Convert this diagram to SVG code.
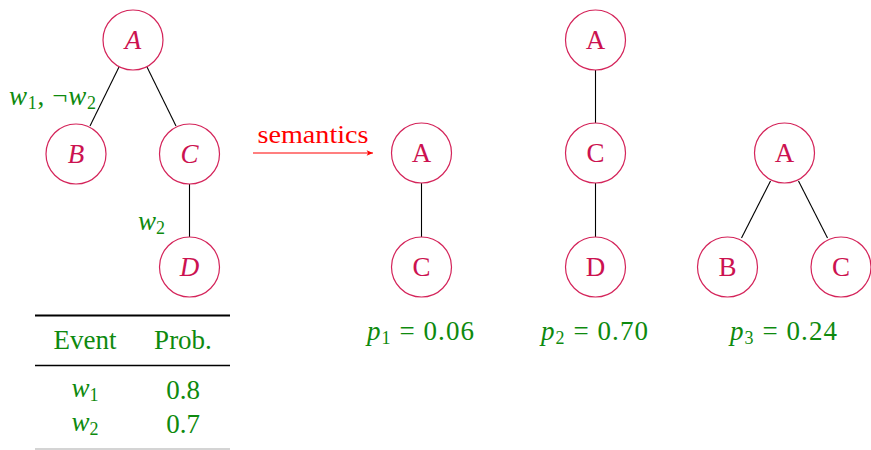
<svg xmlns="http://www.w3.org/2000/svg" width="871" height="450" viewBox="0 0 871 450">
<defs>
<style>
.nd{fill:#fff;stroke:#d4245a;stroke-width:1.2}
.nt{font-family:"Liberation Serif",serif;font-size:27px;fill:#cc1250;text-anchor:middle}
.it{font-style:italic}
.e{stroke:#000;stroke-width:1.1;fill:none}
.g{font-family:"Liberation Serif",serif;font-size:27px;fill:#0e8a0e}
.sub{font-size:18px;font-style:normal}
.m{font-style:italic}
</style>
<marker id="ah" viewBox="0 0 10 10" refX="9" refY="5" markerWidth="8" markerHeight="8" orient="auto" markerUnits="userSpaceOnUse">
<path d="M1,1.5 L9,5 L1,8.5 L3,5 Z" fill="#ff0000"/>
</marker>
</defs>
<rect width="871" height="450" fill="#fff"/>
<g id="connectors">
<line class="e" x1="119" y1="67" x2="90" y2="126"/>
<line class="e" x1="147" y1="67" x2="176" y2="126"/>
<line class="e" x1="189.5" y1="184" x2="189.5" y2="237"/>
<line class="e" x1="421.5" y1="183" x2="421.5" y2="237"/>
<line class="e" x1="595.5" y1="70" x2="595.5" y2="123"/>
<line class="e" x1="595.5" y1="183" x2="595.5" y2="237"/>
<line class="e" x1="770.5" y1="181" x2="741.5" y2="238"/>
<line class="e" x1="798.5" y1="181" x2="827.5" y2="238"/>
<line x1="253" y1="153" x2="373" y2="153" stroke="#ff0000" stroke-width="1.1" marker-end="url(#ah)"/>
</g>
<g id="labels">
<text class="g" x="9" y="105" textLength="87" lengthAdjust="spacing"><tspan class="m">w</tspan><tspan class="sub" dy="4">1</tspan><tspan dy="-4">, ¬</tspan><tspan class="m">w</tspan><tspan class="sub" dy="4">2</tspan></text>
<text class="g" x="138" y="230"><tspan class="m">w</tspan><tspan class="sub" dy="4">2</tspan></text>
<text x="313" y="143" font-family="Liberation Serif,serif" font-size="26" fill="#ff0000" text-anchor="middle" textLength="111" lengthAdjust="spacingAndGlyphs">semantics</text>
<text class="g" x="367" y="340" textLength="107" lengthAdjust="spacing"><tspan class="m">p</tspan><tspan class="sub" dy="4">1</tspan><tspan dy="-4"> = 0.06</tspan></text>
<text class="g" x="541" y="340" textLength="107" lengthAdjust="spacing"><tspan class="m">p</tspan><tspan class="sub" dy="4">2</tspan><tspan dy="-4"> = 0.70</tspan></text>
<text class="g" x="730" y="340" textLength="107" lengthAdjust="spacing"><tspan class="m">p</tspan><tspan class="sub" dy="4">3</tspan><tspan dy="-4"> = 0.24</tspan></text>
</g>
<g id="tree0">
<g id="n0A"><circle class="nd" cx="133" cy="40" r="30"/><text class="nt it" x="133" y="49">A</text></g>
<g id="n0B"><circle class="nd" cx="76" cy="154" r="30"/><text class="nt it" x="76" y="163">B</text></g>
<g id="n0C"><circle class="nd" cx="189.5" cy="154" r="30"/><text class="nt it" x="189.5" y="163">C</text></g>
<g id="n0D"><circle class="nd" cx="189.5" cy="267" r="30"/><text class="nt it" x="189.5" y="276">D</text></g>
</g>
<g id="tree1">
<g id="n1A"><circle class="nd" cx="421.5" cy="153" r="30"/><text class="nt" x="421.5" y="162">A</text></g>
<g id="n1C"><circle class="nd" cx="421.5" cy="267" r="30"/><text class="nt" x="421.5" y="276">C</text></g>
</g>
<g id="tree2">
<g id="n2A"><circle class="nd" cx="595.5" cy="40" r="30"/><text class="nt" x="595.5" y="49">A</text></g>
<g id="n2C"><circle class="nd" cx="595.5" cy="153" r="30"/><text class="nt" x="595.5" y="162">C</text></g>
<g id="n2D"><circle class="nd" cx="595.5" cy="267" r="30"/><text class="nt" x="595.5" y="276">D</text></g>
</g>
<g id="tree3">
<g id="n3A"><circle class="nd" cx="784.5" cy="153" r="30"/><text class="nt" x="784.5" y="162">A</text></g>
<g id="n3B"><circle class="nd" cx="727.5" cy="267" r="30"/><text class="nt" x="727.5" y="276">B</text></g>
<g id="n3C"><circle class="nd" cx="841" cy="267" r="30"/><text class="nt" x="841" y="276">C</text></g>
</g>
<g id="table">
<line x1="35" y1="315.5" x2="230" y2="315.5" stroke="#000" stroke-width="2"/>
<line x1="35" y1="365.5" x2="230" y2="365.5" stroke="#000" stroke-width="1.4"/>
<line x1="35" y1="449" x2="230" y2="449" stroke="#aaa" stroke-width="1.2"/>
<text class="g" x="85" y="349" text-anchor="middle">Event</text>
<text class="g" x="183" y="349" text-anchor="middle">Prob.</text>
<text class="g" x="85" y="397" text-anchor="middle"><tspan class="m">w</tspan><tspan class="sub" dy="4">1</tspan></text>
<text class="g" x="183" y="399" text-anchor="middle">0.8</text>
<text class="g" x="85" y="431" text-anchor="middle"><tspan class="m">w</tspan><tspan class="sub" dy="4">2</tspan></text>
<text class="g" x="183" y="433" text-anchor="middle">0.7</text>
</g>
</svg>
